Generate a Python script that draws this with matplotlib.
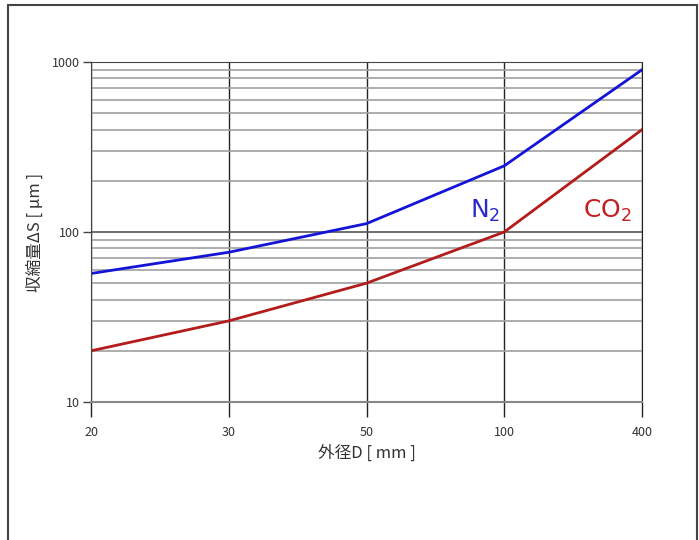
import matplotlib.pyplot as plt
from matplotlib.patches import Rectangle
from matplotlib.ticker import LogLocator, NullFormatter

plt.rcParams['font.family'] = ['Noto Sans CJK JP', 'DejaVu Sans']

# outer diameter D [mm] (equally spaced categories) and shrinkage [um]
diameters = ['20', '30', '50', '100', '400']
n2_shrink = [57, 76, 112, 245, 900]
co2_shrink = [20, 30, 50, 100, 400]

fig = plt.figure(figsize=(6.99, 5.4), dpi=100)
ax = fig.add_axes([91 / 699, 1 - 402 / 540, 551 / 699, 340 / 540])

# frame around the whole picture (open at the bottom)
fig.patches.append(Rectangle((8 / 699, -0.05), 689 / 699, 1 - 5 / 540 + 0.05,
                             transform=fig.transFigure, fill=False,
                             edgecolor='#444444', linewidth=1.5))

pos = range(len(diameters))
ax.plot(pos, n2_shrink, color='#1414d8', linewidth=2)
ax.plot(pos, co2_shrink, color='#b41c1c', linewidth=2)

ax.set_yscale('log')
ax.set_ylim(10, 1000)
ax.set_xlim(0, len(diameters) - 1)
ax.set_xticks(list(pos))
ax.set_xticklabels(diameters)
ax.set_yticks([10, 100, 1000])
ax.set_yticklabels(['10', '100', '1000'])
ax.yaxis.set_minor_locator(LogLocator(base=10, subs=range(2, 10)))
ax.yaxis.set_minor_formatter(NullFormatter())

ax.grid(True, which='major', axis='x', color='#222222', linewidth=1)
ax.grid(True, which='major', axis='y', color='#555555', linewidth=1.2)
ax.grid(True, which='minor', axis='y', color='#a0a0a0', linewidth=1.2)
ax.tick_params(axis='x', which='major', length=11, width=1, color='#222222',
               labelsize=9, labelcolor='#333333', pad=6)
ax.tick_params(axis='y', which='major', length=6, width=1, color='#444444',
               labelsize=9, labelcolor='#333333', pad=2)
ax.tick_params(axis='y', which='minor', length=0)

for side in ['top', 'left']:
    ax.spines[side].set_color('#444444')
ax.spines['bottom'].set_color('#888888')
ax.spines['bottom'].set_linewidth(1.5)
ax.spines['right'].set_color('#222222')

ax.set_xlabel('外径D [ mm ]', fontsize=12, color='#333333', labelpad=4)
ax.set_ylabel('収縮量ΔS [ μm ]', fontsize=12, color='#333333', labelpad=6)

ax.text(2.86, 133, 'N$_2$', color='#2a2acc', fontsize=18, family='DejaVu Sans',
        ha='center', va='center')
ax.text(3.75, 133, 'CO$_2$', color='#c02020', fontsize=18, family='DejaVu Sans',
        ha='center', va='center')

fig.savefig('out.png', dpi=100, facecolor='white')
